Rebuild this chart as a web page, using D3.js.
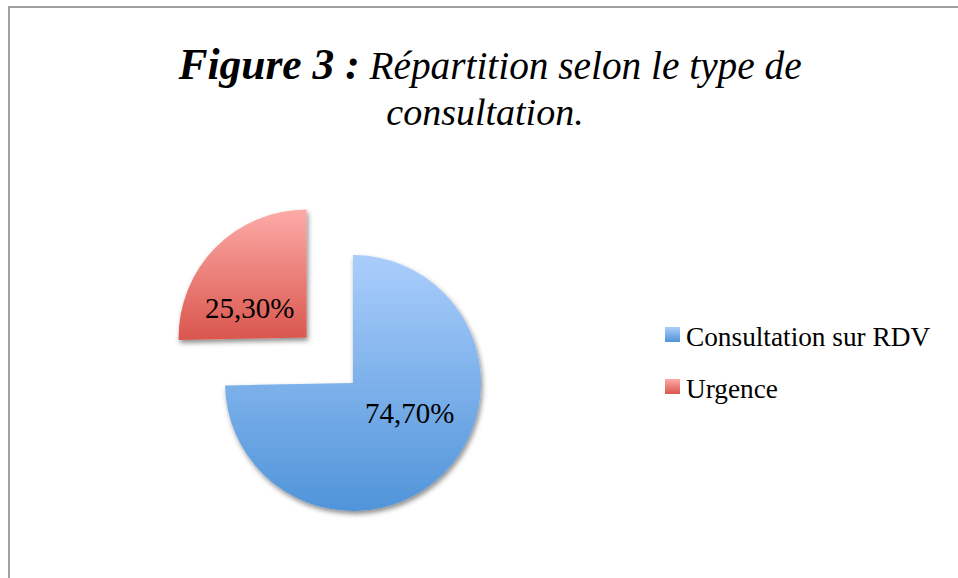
<!DOCTYPE html>
<html>
<head>
<meta charset="utf-8">
<script src="https://cdn.jsdelivr.net/npm/d3@7"></script>
<style>
  html, body { margin: 0; padding: 0; background: #ffffff; }
  svg { display: block; }
</style>
</head>
<body>
<script>
// ---- Data ----
const categories = ["Consultation sur RDV", "Urgence"];
const values = [74.7, 25.3];
const valueLabels = ["74,70%", "25,30%"];
const explode = [0, 1];
const colorTop = ["#aacefc", "#fcaba7"];
const colorBottom = ["#5094d9", "#da564d"];
const titleBold = "Figure 3 :";
const titleLine1 = "Répartition selon le type de";
const titleLine2 = "consultation.";

const W = 958, H = 578;
const svg = d3.select("body").append("svg").attr("width", W).attr("height", H);
const defs = svg.append("defs");

categories.forEach((c, i) => {
  const g = defs.append("linearGradient").attr("id", "grad" + i)
    .attr("x1", 0).attr("y1", 0).attr("x2", 0).attr("y2", 1);
  g.append("stop").attr("offset", "0%").attr("stop-color", colorTop[i]);
  g.append("stop").attr("offset", "100%").attr("stop-color", colorBottom[i]);
});
const f = defs.append("filter").attr("id", "shadow")
  .attr("x", "-20%").attr("y", "-20%").attr("width", "140%").attr("height", "140%");
f.append("feDropShadow").attr("dx", 1.5).attr("dy", 3).attr("stdDeviation", 2.5)
  .attr("flood-color", "#000").attr("flood-opacity", 0.45);

// Border
svg.append("rect").attr("x", 9).attr("y", 7).attr("width", W + 20).attr("height", H + 20)
  .attr("fill", "none").attr("stroke", "#a0a0a0").attr("stroke-width", 2);

// Title
const t1 = svg.append("text").attr("x", 490).attr("y", 79).attr("text-anchor", "middle")
  .attr("font-family", "'Liberation Serif', serif").attr("fill", "#000");
t1.append("tspan").attr("font-weight", "bold").attr("font-style", "italic")
  .attr("font-size", 43.5).text(titleBold);
t1.append("tspan").attr("font-style", "italic").attr("font-size", 39.3).text(" " + titleLine1);
svg.append("text").attr("x", 485).attr("y", 125).attr("text-anchor", "middle")
  .attr("font-family", "'Liberation Serif', serif").attr("font-style", "italic")
  .attr("font-size", 38).attr("fill", "#000").text(titleLine2);

// Pie
const cx = 353, cy = 383, R = 128, explodeDist = 65;
const pie = d3.pie().sort(null).value(d => d)(values);
const arc = d3.arc().innerRadius(0).outerRadius(R);
const g = svg.append("g").attr("transform", `translate(${cx},${cy})`);

const slices = g.selectAll("g.slice").data(pie).enter().append("g")
  .attr("transform", (d, i) => {
    const a = (d.startAngle + d.endAngle) / 2;
    const k = explode[i] * explodeDist;
    return `translate(${Math.sin(a) * k},${-Math.cos(a) * k})`;
  });
slices.append("path").attr("d", arc)
  .attr("fill", (d, i) => `url(#grad${i})`)
  .attr("filter", "url(#shadow)");
slices.append("text")
  .attr("transform", d => {
    const a = (d.startAngle + d.endAngle) / 2 - 17 * Math.PI / 180;
    const r = R * 0.5;
    return `translate(${Math.sin(a) * r},${-Math.cos(a) * r})`;
  })
  .attr("text-anchor", "middle").attr("dy", "0.35em")
  .attr("font-family", "'Liberation Serif', serif").attr("font-size", 29)
  .attr("fill", "#000").text((d, i) => valueLabels[i]);

// Legend
const lg = svg.append("g").attr("transform", "translate(665,327)");
categories.forEach((c, i) => {
  const row = lg.append("g").attr("transform", `translate(0,${i * 52})`);
  row.append("rect").attr("width", 15).attr("height", 15).attr("fill", `url(#grad${i})`);
  row.append("text").attr("x", 21).attr("y", 19)
    .attr("font-family", "'Liberation Serif', serif").attr("font-size", 27.3)
    .attr("fill", "#000").text(c);
});
</script>
</body>
</html>
